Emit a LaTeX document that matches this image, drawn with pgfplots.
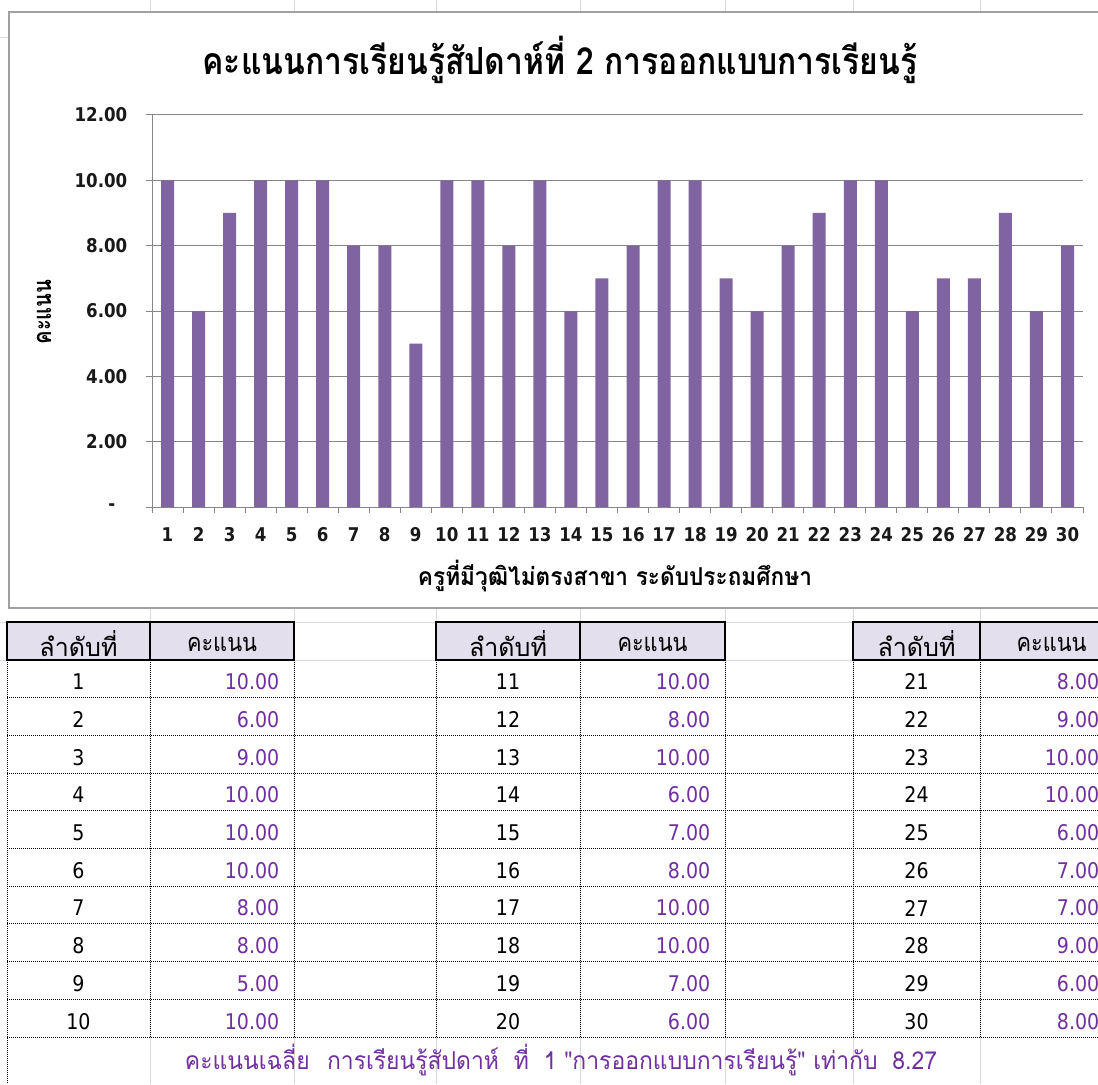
\documentclass[border=0pt]{standalone}
\usepackage{pgfplots}
\pgfplotsset{compat=1.18}
\usepackage{fontspec}
\usepackage{graphicx}
\setmainfont{DejaVu Sans}
\newfontfamily\thaifont[Script=Thai]{Loma}
\newfontfamily\numfont[FakeStretch=0.88]{DejaVu Sans}
\definecolor{barpurple}{HTML}{8064A2}
\definecolor{valpurple}{HTML}{7030A0}
\definecolor{hdrfill}{HTML}{E4DFEC}
\definecolor{xlgrid}{HTML}{DADADA}
\definecolor{axgray}{HTML}{868686}
\definecolor{framegray}{HTML}{A0A0A0}
\newcommand\fitw[2]{\resizebox{#1}{\height}{#2}}
\begin{document}
\begin{tikzpicture}
\begin{scope}[x=0.75pt,y=-0.75pt]
  \fill[white] (0,0) rectangle (1098,1084);
  \foreach \cx in {150,294,436,580,725,853,980}
    \draw[xlgrid,line width=0.75pt] (\cx,0) -- (\cx,1084);
  \foreach \ry in {38,622,660}
    \draw[xlgrid,line width=0.75pt] (0,\ry) -- (1098,\ry);
  \draw[framegray,line width=1.5pt,fill=white] (9,12.5) rectangle (1115,608);
\end{scope}
\begin{axis}[
  at={(114pt,-380.25pt)}, anchor=south west,
  scale only axis, width=698.25pt, height=294pt,
  xmin=0.5, xmax=30.5, ymin=0, ymax=12,
  enlargelimits=false,
  axis x line*=bottom, axis y line*=left,
  axis line style={axgray,line width=0.75pt},
  ybar, bar width=9.75pt,
  ytick={0,2,4,6,8,10,12},
  yticklabels={-\kern 9pt,2.00,4.00,6.00,8.00,10.00,12.00},
  ymajorgrids, major grid style={axgray,line width=0.75pt},
  xtick={1,...,30},
  minor xtick={0.5,1.5,...,30.5},
  tick align=outside,
  major tick length=4.5pt, minor tick length=4.5pt,
  xtick style={/pgfplots/major tick length=0pt},
  tick style={axgray,line width=0.75pt},
  /pgf/number format/assume math mode=true,
  ticklabel style={font=\numfont\bfseries\fontsize{14.2}{16}\selectfont, text=black!90},
  yticklabel style={xshift=-10.5pt},
  xticklabel style={yshift=-7.5pt},
]
\addplot[fill=barpurple,draw=none] coordinates {
  (1,10) (2,6) (3,9) (4,10) (5,10) (6,10) (7,8) (8,8) (9,5) (10,10)
  (11,10) (12,8) (13,10) (14,6) (15,7) (16,8) (17,10) (18,10) (19,7) (20,6)
  (21,8) (22,9) (23,10) (24,10) (25,6) (26,7) (27,7) (28,9) (29,6) (30,8)};
\end{axis}
\begin{scope}[x=0.75pt,y=-0.75pt]
  % title and labels
  \node at (560,60) {\thaifont\bfseries\fontsize{28}{32}\selectfont\fitw{536pt}{คะแนนการเรียนรู้สัปดาห์ที่ 2 การออกแบบการเรียนรู้}};
  \node[rotate=90] at (44,312) {\thaifont\bfseries\fontsize{19}{22}\selectfont\fitw{48.75pt}{คะแนน}};
  \node at (615,576) {\thaifont\bfseries\fontsize{18.5}{22}\selectfont\fitw{295.5pt}{ครูที่มีวุฒิไม่ตรงสาขา ระดับประถมศึกษา}};
  % table headers
  \foreach \a/\b/\c in {7/150/294,436/580/725,853/980/1123} {
    \fill[hdrfill] (\a,622) rectangle (\c,660);
    \draw[black,line width=1.5pt] (\a,622) rectangle (\c,660) (\b,622) -- (\b,660);
    \node at ({(\a+\b)/2},644) {\thaifont\fontsize{19}{22}\selectfont\fitw{58.5pt}{ลำดับที่}};
    \node at ({(\b+\c)/2},644) {\thaifont\fontsize{19}{22}\selectfont\fitw{52.5pt}{คะแนน}};
  }
  % dotted grid
  \foreach \k in {1,...,10}
    \draw[black,line width=0.75pt,dash pattern=on 0.75pt off 0.75pt] (7,660+\k*37.7) -- (1098,660+\k*37.7);
  \foreach \cx in {150,294,436,580,725,853,980}
    \draw[black,line width=0.75pt,dash pattern=on 0.75pt off 0.75pt] (\cx,660) -- (\cx,1037);
  \draw[black,line width=0.75pt,dash pattern=on 0.75pt off 0.75pt] (7,660) -- (7,1084);
  % table values
  \foreach \n/\v [count=\r from 0] in {1/10.00,2/6.00,3/9.00,4/10.00,5/10.00,6/10.00,7/8.00,8/8.00,9/5.00,10/10.00} {
    \node at (78.5,{663+(\r+0.5)*37.7}) {\numfont\fontsize{16.2}{18}\selectfont \n};
    \node[anchor=east,text=valpurple] at (284,{663+(\r+0.5)*37.7}) {\numfont\fontsize{16.2}{18}\selectfont \v};
  }
  \foreach \n/\v [count=\r from 0] in {11/10.00,12/8.00,13/10.00,14/6.00,15/7.00,16/8.00,17/10.00,18/10.00,19/7.00,20/6.00} {
    \node at (508,{663+(\r+0.5)*37.7}) {\numfont\fontsize{16.2}{18}\selectfont \n};
    \node[anchor=east,text=valpurple] at (715,{663+(\r+0.5)*37.7}) {\numfont\fontsize{16.2}{18}\selectfont \v};
  }
  \foreach \n/\v [count=\r from 0] in {21/8.00,22/9.00,23/10.00,24/10.00,25/6.00,26/7.00,27/7.00,28/9.00,29/6.00,30/8.00} {
    \node at (916.5,{663+(\r+0.5)*37.7}) {\numfont\fontsize{16.2}{18}\selectfont \n};
    \node[anchor=east,text=valpurple] at (1104,{663+(\r+0.5)*37.7}) {\numfont\fontsize{16.2}{18}\selectfont \v};
  }
  % footer
  \node[text=valpurple] at (561,1060) {\thaifont\fontsize{18.5}{22}\selectfont\fitw{564pt}{คะแนนเฉลี่ย\hspace{14pt}การเรียนรู้สัปดาห์\hspace{12pt}ที่\hspace{12pt}1 "การออกแบบการเรียนรู้" เท่ากับ\hspace{12pt}8.27}};
\end{scope}
\pgfresetboundingbox
\path[use as bounding box] (0pt,0pt) rectangle (823.5pt,-813pt);
\end{tikzpicture}
\end{document}
